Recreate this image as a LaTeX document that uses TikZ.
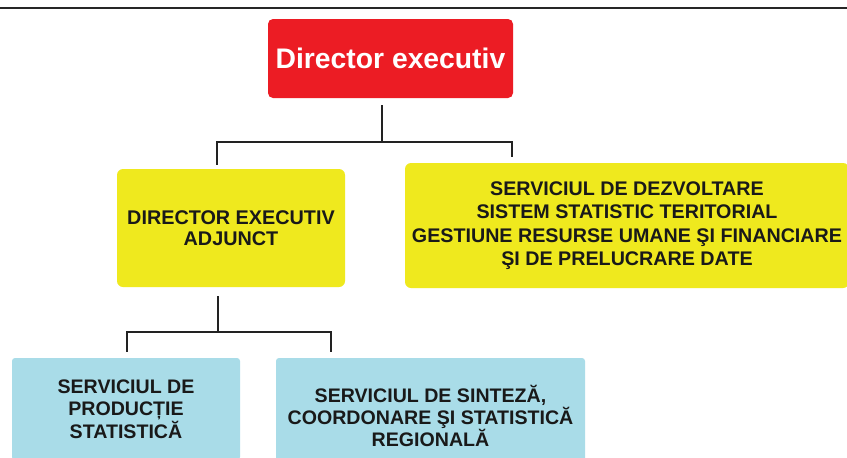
\documentclass[tikz,border=0pt]{standalone}
\usepackage{fontspec}
\setmainfont{Liberation Sans}
\usetikzlibrary{calc}
\definecolor{boxred}{HTML}{EC1C24}
\definecolor{boxyellow}{HTML}{EFE91E}
\definecolor{boxblue}{HTML}{A9DCE8}
\definecolor{linedark}{HTML}{222222}
\begin{document}
\begin{tikzpicture}[x=1pt,y=-1pt,
  box/.style={rectangle, inner sep=0pt, align=center, font=\bfseries},
  redbox/.style={box, fill=boxred, rounded corners=5pt, text=white, font=\bfseries\fontsize{28.3}{32}\selectfont},
  yellowbox/.style={box, fill=boxyellow, rounded corners=6pt, text=black!90},
  bluebox/.style={box, fill=boxblue, rounded corners=3pt, text=black!90},
  conn/.style={draw=linedark, line width=2pt}]
\useasboundingbox (0,0) rectangle (847,458);
\fill[white] (0,0) rectangle (847,458);
% top rule
\coordinate (tl) at (0,8);
\coordinate (tr) at (847,8);
\draw[line width=2.5pt, draw=black!85] (tl) -- (tr);
% boxes
\node[redbox, minimum width=245pt, minimum height=79pt] (red) at (390.5,58.5) {Director executiv};
\node[yellowbox, minimum width=228pt, minimum height=118pt,
      font=\bfseries\fontsize{19.8}{21}\selectfont] (y1) at (231,228)
      {DIRECTOR EXECUTIV\\ADJUNCT};
\node[yellowbox, minimum width=444pt, minimum height=125pt,
      font=\bfseries\fontsize{19.7}{23.5}\selectfont] (y2) at (627,225.5)
      {SERVICIUL DE DEZVOLTARE\\SISTEM STATISTIC TERITORIAL\\GESTIUNE RESURSE UMANE ŞI FINANCIARE\\ŞI DE PRELUCRARE DATE};
\node[bluebox, minimum width=228pt, minimum height=102pt,
      font=\bfseries\fontsize{19.6}{22.5}\selectfont] (b1) at (126,409)
      {SERVICIUL DE\\PRODUCȚIE\\STATISTICĂ};
\node[bluebox, minimum width=309pt, minimum height=116pt,
      font=\bfseries\fontsize{19.6}{20}\selectfont] (b2) at (430.5,416)
      {SERVICIUL DE SINTEZĂ,\\COORDONARE ŞI STATISTICĂ\\REGIONALĂ};
% connectors, level 1
\coordinate (j1) at (382,142);
\coordinate (l1) at (217,142);
\coordinate (r1) at (512,142);
\draw[conn] ($(red.south -| j1)+(0,7)$) -- (j1);
\draw[conn] ($(l1 |- y1.north)+(0,-4)$) -- (l1) -- (r1) -- ($(r1 |- y2.north)+(0,-6)$);
% connectors, level 2
\coordinate (j2) at (218,332);
\coordinate (l2) at (127,332);
\coordinate (r2) at (331,332);
\draw[conn] ($(y1.south -| j2)+(0,9)$) -- (j2);
\draw[conn] ($(l2 |- b1.north)+(0,-6)$) -- (l2) -- (r2) -- ($(r2 |- b2.north)+(0,-6)$);
\end{tikzpicture}
\end{document}
